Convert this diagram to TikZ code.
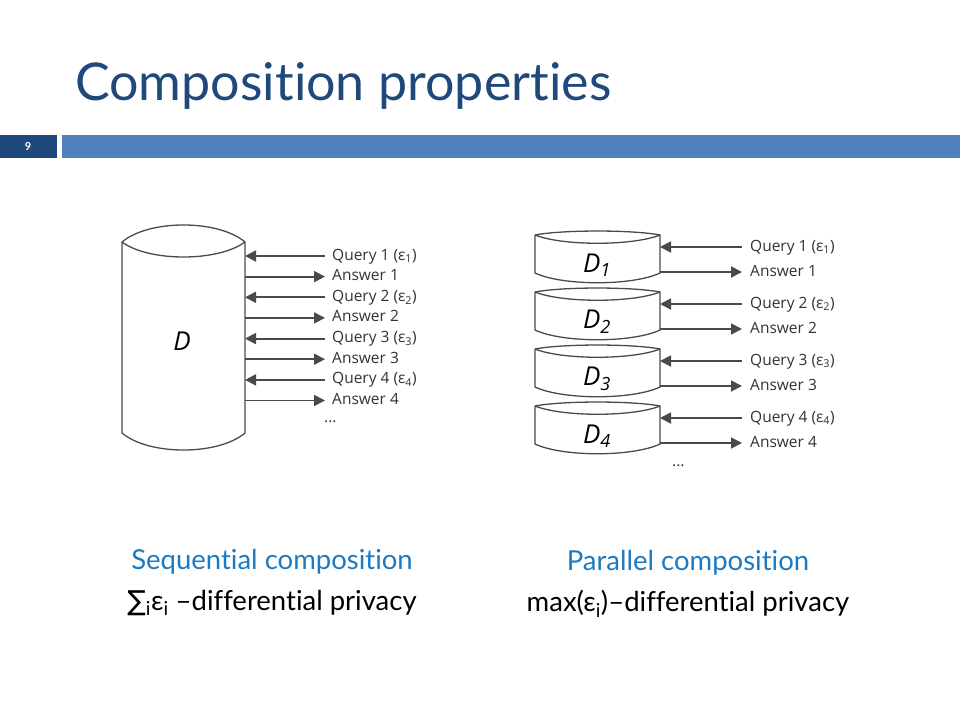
\documentclass[tikz,border=0pt]{standalone}
\usepackage{fontspec}
\setmainfont{Lato}[RawFeature={-liga}]
\newfontfamily\labelfont{Open Sans}
\newfontfamily\symfont{DejaVu Sans}
\usetikzlibrary{calc,positioning,arrows.meta}
\definecolor{titleblue}{HTML}{1F497D}
\definecolor{barblue}{HTML}{4F81BD}
\definecolor{capblue}{HTML}{1C7AC2}
\definecolor{drumgray}{HTML}{4A4A4A}
\definecolor{labelgray}{HTML}{333333}
\tikzset{
  cylline/.style={draw=drumgray,line width=1.3pt,fill=white},
  drumbox/.style={inner sep=0pt,outer sep=0pt},
  lbl/.style={anchor=west,inner sep=0pt,text height=11pt,text depth=3pt,
    font=\labelfont\fontsize{15.5}{17}\selectfont,text=labelgray},
  qarrow/.style={{Triangle[length=11pt,width=11pt]}-,draw=drumgray,line width=1.8pt},
  aarrow/.style={-{Triangle[length=11pt,width=11pt]},draw=drumgray,line width=1.8pt},
  captext/.style={inner sep=0pt,font=\fontsize{27.5}{32}\selectfont}
}
% outline of a drum round a named box: lid bulge, lid dip, base bulge
\newcommand\drum[4]{%
  \draw[cylline] (#1.north west) -- (#1.south west)
    .. controls ($(#1.south west)!0.22!(#1.south east)+(0,#4)$) and ($(#1.south west)!0.78!(#1.south east)+(0,#4)$) .. (#1.south east)
    -- (#1.north east)
    .. controls ($(#1.north west)!0.78!(#1.north east)+(0,#2)$) and ($(#1.north west)!0.22!(#1.north east)+(0,#2)$) .. (#1.north west);
  \draw[cylline,fill=none] (#1.north west)
    .. controls ($(#1.north west)!0.22!(#1.north east)+(0,#3)$) and ($(#1.north west)!0.78!(#1.north east)+(0,#3)$) .. (#1.north east);}
\begin{document}
\begin{tikzpicture}[x=1pt,y=-1pt]
\useasboundingbox[fill=white] (0,0) rectangle (960,720);
% heading
\node (title) [anchor=base west,inner sep=0pt,text=titleblue,font=\fontsize{52}{58}\selectfont] at (75,100) {Composition properties};
\fill[titleblue] (0,135) rectangle (57,158);
\fill[barblue] (62,135) rectangle (960,158);
\node (num) [text=white,font=\bfseries\fontsize{11}{13}\selectfont] at (28,146.5) {9};

% sequential
\node (D) [drumbox,minimum width=123pt,minimum height=191pt] at (183.5,337.5) {};
\drum{D}{-22.7}{20}{22.7}
\node (Dl) at (182,341) {\labelfont\itshape\fontsize{26}{30}\selectfont D};
\foreach \i in {1,...,4}{
  \pgfmathsetmacro\qy{256+41.3*(\i-1)}
  \node (Q\i) [lbl] at (332,\qy) {Query \i\ (ε\textsubscript{\i})};
  \node (A\i) [lbl] at (332,\qy+20.6) {Answer \i};
  \draw[qarrow] (Q\i.west -| D.east) -- ([xshift=-7pt]Q\i.west);
  \draw[aarrow] (A\i.west -| D.east) -- ([xshift=-7pt]A\i.west);
}
\node (dots) [lbl] at (324,418) {...};

% parallel
\foreach \i in {1,...,4}{
  \pgfmathsetmacro\ty{235+57*(\i-1)}
  \node (P\i) [drumbox,minimum width=125pt,minimum height=38pt] at (597.5,\ty+19) {};
  \drum{P\i}{-5.3}{11}{13}
  \node (Pl\i) at (597,\ty+30) {\labelfont\itshape\fontsize{26}{30}\selectfont D\textsubscript{\i}};
  \node (PQ\i) [lbl] at (750,\ty+12) {Query \i\ (ε\textsubscript{\i})};
  \node (PA\i) [lbl] at (750,\ty+37) {Answer \i};
  \draw[qarrow] (PQ\i.west -| P\i.east) -- ([xshift=-8pt]PQ\i.west);
  \draw[aarrow] (PA\i.west -| P\i.east) -- ([xshift=-8pt]PA\i.west);
}
\node (pdots) [lbl] at (672,462) {...};

% captions
\node (seq) [captext,text=capblue] at (272,562) {Sequential composition};
\node (seqdp) [captext] at (272,603) {{\symfont ∑}\textsubscript{i}ε\textsubscript{i} –differential privacy};
\node (par) [captext,text=capblue] at (688,563) {Parallel composition};
\node (pardp) [captext] at (688,604) {max(ε\textsubscript{i})–differential privacy};
\end{tikzpicture}
\end{document}
